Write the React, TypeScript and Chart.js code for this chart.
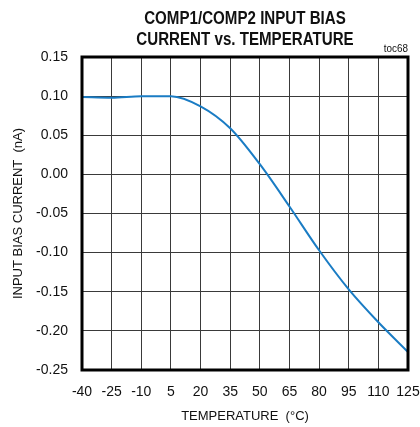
import React, { useEffect, useRef } from "react";
import { Chart, registerables } from "chart.js";

Chart.register(...registerables);

const temperatures = [-40, -25, -10, 5, 20, 35, 50, 65, 80, 95, 110, 125];
const biasCurrent = [0.099, 0.098, 0.1, 0.1, 0.087, 0.059, 0.013, -0.041, -0.097, -0.147, -0.189, -0.227];
const xTicks = [-40, -25, -10, 5, 20, 35, 50, 65, 80, 95, 110, 125];
const yTicks = [0.15, 0.1, 0.05, 0.0, -0.05, -0.1, -0.15, -0.2, -0.25];
const titleLines = ["COMP1/COMP2 INPUT BIAS", "CURRENT vs. TEMPERATURE"];
const tocLabel = "toc68";
const xTitle = "TEMPERATURE  (°C)";
const yTitle = "INPUT BIAS CURRENT  (nA)";

const FONT = "'Liberation Sans', Arial, sans-serif";

const framePlugin = {
  id: "frameAndTitle",
  afterDraw(chart: any) {
    const { ctx, chartArea } = chart;
    const { left, right, top, bottom } = chartArea;
    ctx.save();
    ctx.strokeStyle = "#000";
    ctx.lineWidth = 3;
    ctx.strokeRect(left, top, right - left, bottom - top);
    ctx.fillStyle = "#111";
    ctx.textAlign = "center";
    ctx.textBaseline = "alphabetic";
    ctx.font = `bold 18px ${FONT}`;
    const cx = (left + right) / 2;
    const sx = 0.84;
    ctx.save();
    ctx.scale(sx, 1);
    ctx.fillText(titleLines[0], cx / sx, 24);
    ctx.fillText(titleLines[1], cx / sx, 45);
    ctx.restore();
    ctx.textAlign = "right";
    ctx.font = `11px ${FONT}`;
    ctx.save();
    ctx.scale(0.9, 1);
    ctx.fillText(tocLabel, right / 0.9, top - 5);
    ctx.restore();
    ctx.restore();
  },
};

export default function App() {
  const ref = useRef<HTMLCanvasElement>(null);
  useEffect(() => {
    document.body.style.margin = "0";
    const chart = new Chart(ref.current!, {
      type: "line",
      data: {
        datasets: [
          {
            data: temperatures.map((t, i) => ({ x: t, y: biasCurrent[i] })),
            borderColor: "#1a7cc4",
            borderWidth: 2,
            pointRadius: 0,
            tension: 0,
            cubicInterpolationMode: "monotone",
            fill: false,
          },
        ],
      },
      options: {
        animation: false,
        responsive: false,
        layout: { padding: { top: 57, right: 12, left: 0, bottom: 0 } },
        plugins: { legend: { display: false }, tooltip: { enabled: false }, title: { display: false } },
        scales: {
          x: {
            type: "linear",
            min: -40,
            max: 125,
            afterBuildTicks: (s: any) => {
              s.ticks = xTicks.map((v) => ({ value: v }));
            },
            afterFit: (s: any) => {
              s.height = 57;
              s.paddingLeft = 0;
              s.paddingRight = 0;
            },
            grid: { color: "#3a3a3a", lineWidth: 1, drawTicks: false },
            border: { display: false },
            ticks: { color: "#111", font: { family: FONT, size: 14 }, padding: 14, maxRotation: 0, autoSkip: false },
            title: { display: true, text: xTitle, color: "#111", font: { family: FONT, size: 13 }, padding: { top: 4, bottom: 3 } },
          },
          y: {
            type: "linear",
            min: -0.25,
            max: 0.15,
            afterBuildTicks: (s: any) => {
              s.ticks = yTicks.map((v) => ({ value: v }));
            },
            afterFit: (s: any) => {
              s.width = 82;
              s.paddingTop = 0;
              s.paddingBottom = 0;
            },
            grid: { color: "#3a3a3a", lineWidth: 1, drawTicks: false },
            border: { display: false },
            ticks: {
              color: "#111",
              font: { family: FONT, size: 14 },
              padding: 14,
              callback: (v: any) => Number(v).toFixed(2),
            },
            title: { display: true, text: yTitle, color: "#111", font: { family: FONT, size: 13 }, padding: { top: 11, bottom: 2 } },
          },
        },
      },
      plugins: [framePlugin],
    } as any);
    return () => chart.destroy();
  }, []);
  return <canvas ref={ref} width={420} height={427} style={{ display: "block" }} />;
}
